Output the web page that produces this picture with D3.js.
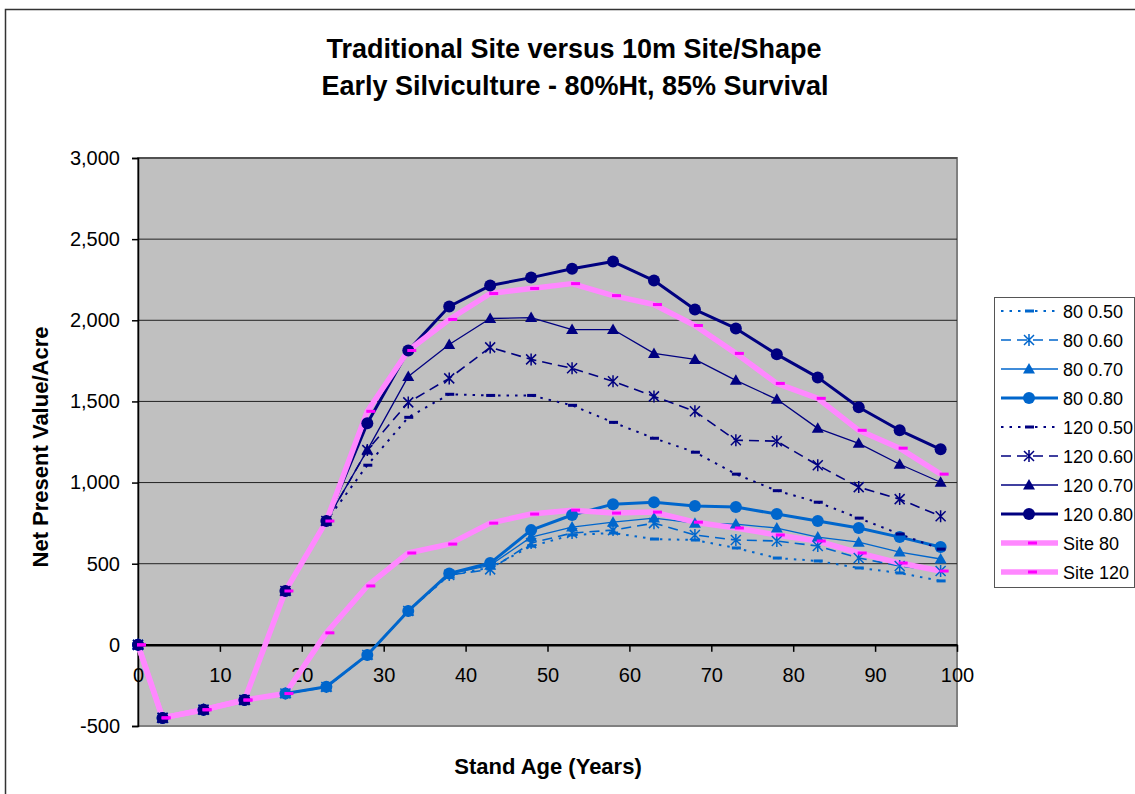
<!DOCTYPE html>
<html lang="en">
<head>
    <meta charset="UTF-8">
    <title>Traditional Site versus 10m Site/Shape</title>
    <script src="https://d3js.org/d3.v7.min.js"></script>
    <style>
        body { margin: 0; background: #fff; }
        svg { display: block; font-family: "Liberation Sans", Arial, sans-serif; }
    </style>
</head>
<body>
    <div id="chart"></div>

    <script>
        // Stand age (years) for every point
        var ages = [0, 3, 8, 13, 18, 23, 28, 33, 38, 43, 48, 53, 58, 63, 68, 73, 78, 83, 88, 93, 98];

        // Net present value per acre
        var s80_050  = [0, -450, -400, -340, -300, -260, -62, 209, 430, 475, 608, 677, 689, 652, 646, 597, 535, 517, 474, 443, 394];
        var s80_060  = [0, -450, -400, -340, -300, -260, -62, 209, 430, 465, 627, 689, 707, 750, 677, 646, 640, 609, 535, 486, 455];
        var s80_070  = [0, -450, -400, -340, -300, -260, -62, 209, 437, 490, 664, 726, 756, 781, 750, 744, 720, 664, 633, 572, 529];
        var s80_080  = [0, -450, -400, -340, -300, -258, -62, 209, 440, 504, 707, 800, 867, 879, 855, 849, 806, 763, 720, 664, 603];
        var s120_050 = [0, -450, -400, -340, 332, 763, 1107, 1402, 1544, 1537, 1537, 1476, 1371, 1273, 1187, 1052, 950, 879, 781, 683, 590];
        var s120_060 = [0, -450, -400, -340, 332, 763, 1200, 1494, 1642, 1833, 1759, 1704, 1624, 1531, 1439, 1261, 1255, 1107, 972, 898, 793];
        var s120_070 = [0, -450, -400, -340, 332, 763, 1200, 1654, 1851, 2011, 2017, 1943, 1943, 1796, 1759, 1630, 1513, 1334, 1242, 1113, 1002];
        var s120_080 = [0, -450, -400, -340, 332, 763, 1365, 1814, 2085, 2214, 2263, 2318, 2362, 2245, 2066, 1950, 1790, 1648, 1464, 1322, 1205];
        var site80   = [0, -450, -400, -340, -300, 74, 363, 566, 621, 750, 806, 830, 812, 818, 756, 720, 677, 640, 566, 504, 455];
        var site120  = [0, -450, -400, -340, 332, 763, 1439, 1814, 2005, 2165, 2196, 2226, 2152, 2097, 1968, 1796, 1611, 1519, 1322, 1212, 1052];

        var seriesNames = ["80 0.50", "80 0.60", "80 0.70", "80 0.80", "120 0.50", "120 0.60", "120 0.70", "120 0.80", "Site 80", "Site 120"];
        var seriesValues = [s80_050, s80_060, s80_070, s80_080, s120_050, s120_060, s120_070, s120_080, site80, site120];

        var xTicks = [0, 10, 20, 30, 40, 50, 60, 70, 80, 90, 100];
        var yTicks = [-500, 0, 500, 1000, 1500, 2000, 2500, 3000];

        // line / marker style per series
        var blue = "#0066cc", navy = "#000080", pink = "#ff88ff", magenta = "#ff00ff";
        var styles = [
            { color: blue, width: 2,   dash: "2.5,6", marker: "dash" },
            { color: blue, width: 1.6, dash: "10,6",  marker: "star" },
            { color: blue, width: 1.3, dash: null,    marker: "triangle" },
            { color: blue, width: 3,   dash: null,    marker: "circle" },
            { color: navy, width: 2,   dash: "2.5,6", marker: "dash" },
            { color: navy, width: 1.6, dash: "10,6",  marker: "star" },
            { color: navy, width: 1.3, dash: null,    marker: "triangle" },
            { color: navy, width: 3,   dash: null,    marker: "circle" },
            { color: pink, width: 5.5, dash: null,    marker: "pinkdash" },
            { color: pink, width: 5.5, dash: null,    marker: "pinkdash" }
        ];

        var width = 1135, height = 794;
        var svg = d3.select("#chart").append("svg")
            .attr("width", width)
            .attr("height", height);

        // chart frame
        svg.append("rect")
            .attr("x", 5.5).attr("y", 9.5)
            .attr("width", 1140).attr("height", 800)
            .attr("fill", "#fff")
            .attr("stroke", "#333").attr("stroke-width", 1.5);

        var x = d3.scaleLinear().domain([0, 100]).range([138, 957]);
        var y = d3.scaleLinear().domain([-500, 3000]).range([726, 158]);

        // plot area
        svg.append("rect")
            .attr("x", x(0)).attr("y", y(3000))
            .attr("width", x(100) - x(0)).attr("height", y(-500) - y(3000))
            .attr("fill", "#c0c0c0")
            .attr("stroke", "#808080").attr("stroke-width", 2);

        // gridlines
        svg.append("g").selectAll("line")
            .data(yTicks.filter(function(d) { return d !== 0 && d !== -500; }))
            .enter().append("line")
            .attr("x1", x(0)).attr("x2", x(100))
            .attr("y1", function(d) { return y(d); })
            .attr("y2", function(d) { return y(d); })
            .attr("stroke", "#222").attr("stroke-width", 1);

        // y axis
        var yAxis = svg.append("g")
            .attr("transform", "translate(" + x(0) + ",0)")
            .call(d3.axisLeft(y).tickValues(yTicks).tickSize(6).tickPadding(12)
                .tickFormat(function(d) { return d3.format(",")(d).replace("\u2212", "-"); }));
        yAxis.select(".domain").attr("stroke", "#000").attr("stroke-width", 1.5);
        yAxis.selectAll(".tick line").attr("stroke", "#000").attr("stroke-width", 1.5);
        yAxis.selectAll("text").style("font-size", "20px").attr("fill", "#000");

        // x axis on the zero line
        var xAxis = svg.append("g")
            .attr("transform", "translate(0," + y(0) + ")")
            .call(d3.axisBottom(x).tickValues(xTicks).tickSize(7).tickPadding(16).tickSizeOuter(0));
        xAxis.select(".domain").attr("stroke", "#000").attr("stroke-width", 2.5);
        xAxis.selectAll(".tick line").attr("stroke", "#000").attr("stroke-width", 1.5);
        xAxis.selectAll("text").style("font-size", "20px").attr("fill", "#000");

        var line = d3.line()
            .x(function(d, i) { return x(ages[i]); })
            .y(function(d) { return y(d); });

        // Excel draws all lines first, then all markers
        var lines = svg.append("g");
        seriesValues.forEach(function(vals, s) {
            var st = styles[s];
            lines.append("path")
                .attr("d", line(vals))
                .attr("fill", "none")
                .attr("stroke", st.color)
                .attr("stroke-width", st.width)
                .attr("stroke-dasharray", st.dash)
                .attr("stroke-linejoin", "round");
        });

        function drawMarker(g, kind, color, cx, cy) {
            if (kind === "circle") {
                g.append("circle").attr("cx", cx).attr("cy", cy).attr("r", 6)
                    .attr("fill", color);
            } else if (kind === "triangle") {
                g.append("path")
                    .attr("d", "M" + cx + "," + (cy - 6) + "L" + (cx + 6) + "," + (cy + 4.5) + "L" + (cx - 6) + "," + (cy + 4.5) + "Z")
                    .attr("fill", color);
            } else if (kind === "star") {
                var r = 5;
                g.append("path")
                    .attr("d", "M" + (cx - r) + "," + (cy - r) + "L" + (cx + r) + "," + (cy + r) +
                               "M" + (cx - r) + "," + (cy + r) + "L" + (cx + r) + "," + (cy - r) +
                               "M" + cx + "," + (cy - r - 1) + "L" + cx + "," + (cy + r + 1))
                    .attr("stroke", color).attr("stroke-width", 1.5).attr("fill", "none");
            } else if (kind === "dash") {
                g.append("rect").attr("x", cx - 4).attr("y", cy - 1.5)
                    .attr("width", 9).attr("height", 3).attr("fill", color);
            } else if (kind === "pinkdash") {
                g.append("rect").attr("x", cx - 1).attr("y", cy - 1.5)
                    .attr("width", 9).attr("height", 3).attr("fill", magenta);
            }
        }

        var markers = svg.append("g");
        seriesValues.forEach(function(vals, s) {
            vals.forEach(function(v, i) {
                drawMarker(markers, styles[s].marker, styles[s].color, x(ages[i]), y(v));
            });
        });

        // titles
        svg.append("text")
            .attr("x", 574).attr("y", 58)
            .attr("text-anchor", "middle")
            .style("font-size", "27px").style("font-weight", "bold")
            .text("Traditional Site versus 10m Site/Shape");
        svg.append("text")
            .attr("x", 575).attr("y", 95)
            .attr("text-anchor", "middle")
            .style("font-size", "27px").style("font-weight", "bold")
            .text("Early Silviculture - 80%Ht, 85% Survival");

        svg.append("text")
            .attr("x", 548).attr("y", 774)
            .attr("text-anchor", "middle")
            .style("font-size", "22px").style("font-weight", "bold")
            .text("Stand Age (Years)");
        svg.append("text")
            .attr("transform", "translate(48,447) rotate(-90)")
            .attr("text-anchor", "middle")
            .style("font-size", "22px").style("font-weight", "bold")
            .text("Net Present Value/Acre");

        // legend
        var legend = svg.append("g").attr("transform", "translate(994,297)");
        legend.append("rect")
            .attr("x", 0.5).attr("y", 0.5)
            .attr("width", 140).attr("height", 290)
            .attr("fill", "#fff").attr("stroke", "#555").attr("stroke-width", 1);

        seriesNames.forEach(function(name, s) {
            var st = styles[s];
            var ly = 14 + s * 29;
            legend.append("line")
                .attr("x1", 7).attr("x2", 64)
                .attr("y1", ly).attr("y2", ly)
                .attr("stroke", st.color)
                .attr("stroke-width", st.width)
                .attr("stroke-dasharray", st.dash);
            drawMarker(legend, st.marker, st.color, 35, ly);
            legend.append("text")
                .attr("x", 69).attr("y", ly + 6.5)
                .style("font-size", "18px")
                .text(name);
        });
    </script>
</body>
</html>
